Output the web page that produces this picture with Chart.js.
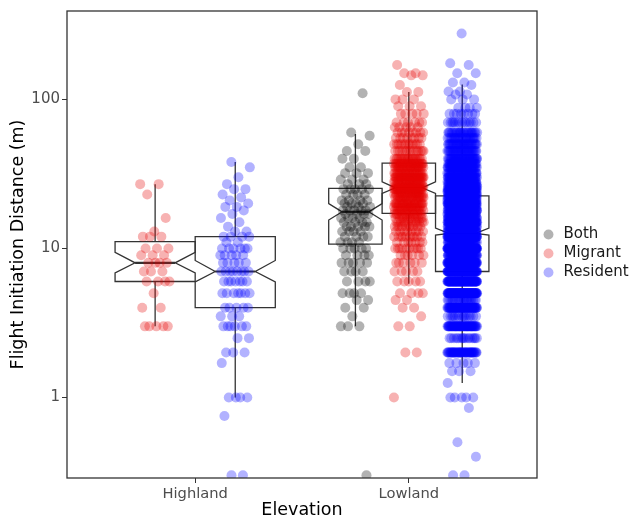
<!DOCTYPE html>
<html>
<head>
<meta charset="utf-8">
<script src="https://cdn.jsdelivr.net/npm/chart.js@4.4.0/dist/chart.umd.min.js"></script>
<style>
    html, body { margin: 0; padding: 0; background: #fff; }
    #grafico { display: block; }
</style>
</head>
<body>
<canvas id="grafico" width="630" height="519"></canvas>
<script>
const elevaciones = ['Highland', 'Lowland'];
const estados = ['Both', 'Migrant', 'Resident'];
const yTicks = [1, 10, 100];

// valores de FID (m) en cada grupo y cuantas aves caen en cada valor
const hlMigrantFid = [27, 23, 16, 13, 12, 10, 9, 8, 7, 6, 5, 4, 3];
const hlMigrantN = [2, 1, 1, 1, 3, 3, 3, 4, 3, 4, 1, 2, 5];

const hlResidentFid = [38, 35, 30, 27, 25, 23, 22, 21, 20, 19, 18, 17, 16, 15, 14, 13, 12, 11, 10, 9, 8, 7, 6, 5, 4, 3.5, 3, 2.5, 2, 1.7, 1, 0.75, 0.3];
const hlResidentN = [1, 1, 1, 1, 2, 1, 1, 1, 1, 2, 1, 1, 1, 1, 1, 2, 4, 2, 6, 5, 5, 8, 7, 7, 5, 3, 6, 2, 3, 1, 4, 1, 2];

const llBothFid = [110, 60, 57, 50, 45, 40, 35, 32, 29, 27, 25, 23, 21, 20, 19, 18, 17, 16, 15, 14, 13, 12, 11, 10, 9, 8, 7, 6, 5, 4.5, 4, 3.5, 3, 0.3];
const llBothN = [1, 1, 1, 1, 2, 2, 2, 3, 3, 3, 5, 4, 4, 4, 3, 5, 4, 4, 4, 5, 4, 4, 4, 5, 4, 5, 4, 4, 4, 2, 2, 1, 3, 1];

const llMigrantFid = [170, 150, 145, 125, 112, 100, 90, 80, 70, 65, 60, 55, 50, 45, 40, 37, 35, 32, 30, 28, 26, 25, 23, 22, 20, 19, 18, 17, 16, 15, 14, 13, 12, 11, 10, 9, 8, 7, 6, 5, 4.5, 4, 3.5, 3, 2, 1];
const llMigrantN = [1, 2, 2, 1, 2, 3, 3, 5, 6, 5, 8, 8, 12, 14, 20, 22, 24, 22, 30, 24, 24, 30, 22, 18, 26, 14, 16, 14, 12, 12, 10, 8, 10, 7, 10, 6, 6, 5, 5, 4, 2, 2, 1, 2, 2, 1];

const llResidentFid = [277, 175, 170, 150, 130, 125, 113, 108, 100, 88, 80, 70, 60, 55, 50, 45, 40, 37, 35, 32, 30, 28, 27, 26, 25, 24, 23, 22, 21, 20, 19, 18, 17, 16, 15, 14, 13, 12, 11, 10, 9, 8, 7, 6, 5, 4.5, 4, 3.5, 3, 2.5, 2, 1.7, 1.5, 1.25, 1, 0.85, 0.5, 0.4, 0.3];
const llResidentN = [1, 1, 1, 2, 2, 1, 2, 2, 3, 4, 8, 14, 24, 24, 32, 34, 44, 30, 40, 40, 45, 40, 30, 30, 60, 40, 40, 50, 40, 80, 40, 60, 40, 60, 90, 60, 60, 120, 50, 170, 70, 130, 120, 110, 110, 20, 70, 15, 60, 15, 50, 5, 3, 1, 5, 1, 1, 1, 2];

// grupos (orden: Highland-Migrant, Highland-Resident, Lowland-Both, Lowland-Migrant, Lowland-Resident)
const grupoElev = [0, 0, 1, 1, 1];
const grupoEstado = ['Migrant', 'Resident', 'Both', 'Migrant', 'Resident'];
const grupoFid = [hlMigrantFid, hlResidentFid, llBothFid, llMigrantFid, llResidentFid];
const grupoN = [hlMigrantN, hlResidentN, llBothN, llMigrantN, llResidentN];

// cajas con muesca
const bigoteMin = [3, 1, 3, 5.8, 1.25];
const cuartil1 = [6, 4, 10.7, 17.2, 7];
const mediana = [8, 7, 17.6, 25.5, 12.6];
const cuartil3 = [11.1, 12, 25.3, 37.4, 22.5];
const bigoteMax = [27, 38, 58.7, 112, 126];
const muescaMin = [6.84, 5.96, 15.5, 23.4, 12.3];
const muescaMax = [9.4, 8.3, 20.0, 28.0, 13.7];

const colores = {
    Both: 'rgba(0, 0, 0, 0.3)',
    Migrant: 'rgba(228, 0, 0, 0.3)',
    Resident: 'rgba(0, 0, 255, 0.3)'
};

const ANCHO_DODGE = 0.75;
const JITTER = 0.07;
const FUENTE = "'DejaVu Sans', sans-serif";

function gruposEnElev(e) {
    return grupoElev.filter(v => v === e).length;
}

function anchoGrupo(g) {
    return ANCHO_DODGE / gruposEnElev(grupoElev[g]);
}

function centroGrupo(g) {
    const e = grupoElev[g];
    const n = gruposEnElev(e);
    let k = 0;
    for (let i = 0; i < g; i++) if (grupoElev[i] === e) k++;
    return (e + 1) + (k - (n - 1) / 2) * (ANCHO_DODGE / n);
}

function puntosGrupo(g) {
    const puntos = [];
    const centro = centroGrupo(g);
    let i = 0;
    grupoFid[g].forEach((valor, j) => {
        for (let c = 0; c < grupoN[g][j]; c++) {
            const f = (i * 0.6180339887 + g * 0.37) % 1;
            puntos.push({ x: centro + (f - 0.5) * 2 * JITTER, y: valor });
            i++;
        }
    });
    return puntos;
}

const datasets = estados.map(estado => {
    let data = [];
    grupoEstado.forEach((e, g) => {
        if (e === estado) data = data.concat(puntosGrupo(g));
    });
    return {
        label: estado,
        data: data,
        backgroundColor: colores[estado],
        borderWidth: 0,
        pointRadius: 5,
        pointHoverRadius: 5,
        clip: 0
    };
});

const cajasPlugin = {
    id: 'cajas',
    beforeDatasetsDraw(chart) {
        const { ctx, chartArea, scales: { x, y } } = chart;
        ctx.save();
        ctx.beginPath();
        ctx.rect(chartArea.left, chartArea.top, chartArea.width, chartArea.height);
        ctx.clip();
        ctx.strokeStyle = '#333';
        ctx.lineJoin = 'miter';
        for (let g = 0; g < grupoEstado.length; g++) {
            const c = centroGrupo(g);
            const w = anchoGrupo(g);
            const xl = x.getPixelForValue(c - w / 2);
            const xr = x.getPixelForValue(c + w / 2);
            const xc = x.getPixelForValue(c);
            const m = (xr - xl) / 4;
            const yq1 = y.getPixelForValue(cuartil1[g]);
            const yq3 = y.getPixelForValue(cuartil3[g]);
            const ymed = y.getPixelForValue(mediana[g]);
            const ynb = y.getPixelForValue(muescaMin[g]);
            const yna = y.getPixelForValue(muescaMax[g]);

            ctx.lineWidth = 1.3;
            ctx.beginPath();
            ctx.moveTo(xc, yq3);
            ctx.lineTo(xc, y.getPixelForValue(bigoteMax[g]));
            ctx.moveTo(xc, yq1);
            ctx.lineTo(xc, y.getPixelForValue(bigoteMin[g]));
            ctx.stroke();

            ctx.beginPath();
            ctx.moveTo(xl, yq3);
            ctx.lineTo(xl, yna);
            ctx.lineTo(xl + m, ymed);
            ctx.lineTo(xl, ynb);
            ctx.lineTo(xl, yq1);
            ctx.lineTo(xr, yq1);
            ctx.lineTo(xr, ynb);
            ctx.lineTo(xr - m, ymed);
            ctx.lineTo(xr, yna);
            ctx.lineTo(xr, yq3);
            ctx.closePath();
            ctx.stroke();

            ctx.lineWidth = 2.2;
            ctx.beginPath();
            ctx.moveTo(xl + m, ymed);
            ctx.lineTo(xr - m, ymed);
            ctx.stroke();
        }
        ctx.restore();
    },
    afterDatasetsDraw(chart) {
        const { ctx, chartArea } = chart;
        ctx.save();
        ctx.strokeStyle = '#333';
        ctx.lineWidth = 1.3;
        ctx.strokeRect(chartArea.left, chartArea.top, chartArea.width, chartArea.height);
        ctx.restore();
    }
};

const ctx = document.getElementById('grafico').getContext('2d');
new Chart(ctx, {
    type: 'scatter',
    data: { datasets: datasets },
    plugins: [cajasPlugin],
    options: {
        responsive: false,
        animation: false,
        layout: { padding: { top: 8, left: 0, right: 0, bottom: 0 } },
        plugins: {
            legend: {
                position: 'right',
                fullSize: false,
                maxWidth: 93,
                title: {
                    display: true,
                    text: ' ',
                    padding: { top: 3, bottom: 3 },
                    font: { family: FUENTE, size: 10 }
                },
                labels: {
                    usePointStyle: true,
                    pointStyle: 'circle',
                    boxHeight: 7,
                    padding: 4,
                    color: '#1a1a1a',
                    font: { family: FUENTE, size: 15 }
                }
            },
            tooltip: { enabled: false }
        },
        scales: {
            x: {
                type: 'linear',
                min: 0.4,
                max: 2.6,
                afterBuildTicks: axis => { axis.ticks = elevaciones.map((_, i) => ({ value: i + 1 })); },
                afterFit: scale => { scale.height = 41; },
                ticks: {
                    autoSkip: false,
                    padding: 2,
                    color: '#4d4d4d',
                    font: { family: FUENTE, size: 14.7 },
                    callback: v => elevaciones[v - 1]
                },
                grid: { drawOnChartArea: false, drawTicks: true, tickLength: 5, color: '#333' },
                border: { display: false },
                title: {
                    display: true,
                    text: 'Elevation',
                    color: '#000',
                    padding: { top: 0, bottom: 0 },
                    font: { family: FUENTE, size: 17.5, lineHeight: 1 }
                }
            },
            y: {
                type: 'logarithmic',
                min: 0.288,
                max: 392,
                afterBuildTicks: axis => { axis.ticks = yTicks.map(v => ({ value: v })); },
                afterFit: scale => { scale.width = 67; },
                ticks: {
                    autoSkip: false,
                    padding: 2,
                    color: '#4d4d4d',
                    font: { family: FUENTE, size: 15 },
                    callback: v => String(v)
                },
                grid: { drawOnChartArea: false, drawTicks: true, tickLength: 5, color: '#333' },
                border: { display: false },
                title: {
                    display: true,
                    text: 'Flight Initiation Distance (m)',
                    color: '#000',
                    padding: { top: 7.5, bottom: 0 },
                    font: { family: FUENTE, size: 17.5 }
                }
            }
        }
    }
});
</script>
</body>
</html>
